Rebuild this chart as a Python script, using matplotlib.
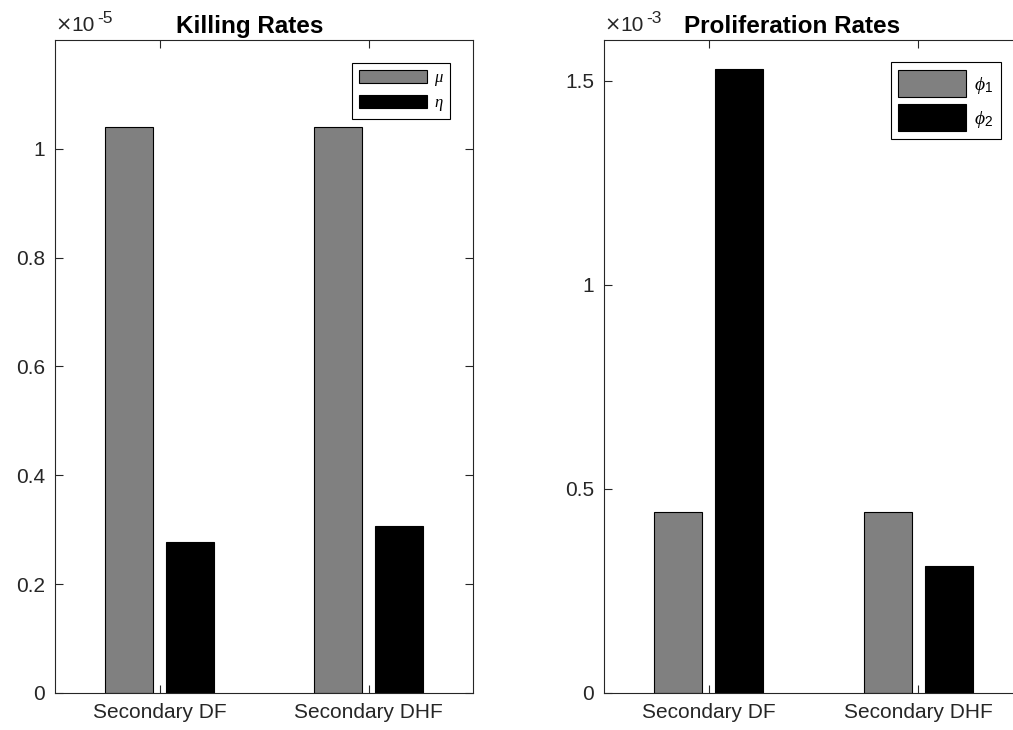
import matplotlib
matplotlib.use("Agg")
import matplotlib.pyplot as plt
import numpy as np

plt.rcParams['font.family'] = ['Liberation Sans', 'DejaVu Sans']
plt.rcParams['mathtext.fontset'] = 'custom'
plt.rcParams['mathtext.rm'] = 'Liberation Sans'
plt.rcParams['mathtext.it'] = 'Liberation Serif:italic'
plt.rcParams['mathtext.bf'] = 'Liberation Sans:bold'

categories = ["Secondary DF", "Secondary DHF"]
mu_vals = [1.04e-5, 1.04e-5]
eta_vals = [0.277e-5, 0.306e-5]
phi1_vals = [0.444e-3, 0.444e-3]
phi2_vals = [1.53e-3, 0.31e-3]

W, H = 1013, 730
fig = plt.figure(figsize=(W / 100, H / 100), dpi=100)

axcol = (0.15, 0.15, 0.15)
gray = (0.5, 0.5, 0.5)


def px_ax(x0, x1, y0, y1):
    return [x0 / W, 1 - y1 / H, (x1 - x0) / W, (y1 - y0) / H]


def make_panel(rect, s1, s2, scale, exp, ylim, yticks, yticklabels, title, title_x,
               labels, legend_anchor, leg_fs, handlelength, handleheight, labelspacing):
    ax = fig.add_axes(rect)
    x = np.arange(1, len(categories) + 1)
    off, w = 0.145, 0.23
    b1 = ax.bar(x - off, np.array(s1) / scale, w, color=gray, edgecolor='black', linewidth=0.8)
    b2 = ax.bar(x + off, np.array(s2) / scale, w, color='black', edgecolor='black', linewidth=0.8)
    ax.set_xlim(0.5, 2.5)
    ax.set_ylim(*ylim)
    ax.set_xticks(x)
    ax.set_xticklabels(categories, fontsize=15)
    ax.set_yticks(yticks)
    ax.set_yticklabels(yticklabels, fontsize=15)
    ax.tick_params(direction='in', length=6, width=0.8, colors=axcol,
                   top=True, right=True, labelcolor=(0.15, 0.15, 0.15), pad=7)
    for sp in ax.spines.values():
        sp.set_color(axcol)
        sp.set_linewidth(0.8)
    ax.set_title(title, fontsize=17.5, fontweight='bold', pad=5, x=title_x)
    ax.text(0.0, 1.008, "\u00d7", transform=ax.transAxes, fontsize=14,
            ha='left', va='bottom', color=axcol, family=['DejaVu Sans'])
    ax.text(0.04, 1.008, "10", transform=ax.transAxes, fontsize=15,
            ha='left', va='bottom', color=axcol)
    ax.text(0.102, 1.022, exp, transform=ax.transAxes, fontsize=12.5,
            ha='left', va='bottom', color=axcol)
    leg = ax.legend([b1, b2], labels, loc='upper right', bbox_to_anchor=legend_anchor,
                    borderaxespad=0, fancybox=False, framealpha=1, fontsize=leg_fs,
                    handlelength=handlelength, handleheight=handleheight, handletextpad=0.4,
                    labelspacing=labelspacing, borderpad=0.4)
    leg.get_frame().set_edgecolor('black')
    leg.get_frame().set_linewidth(0.8)
    return ax


make_panel(px_ax(55, 473, 40, 693), mu_vals, eta_vals, 1e-5, "-5", (0, 1.2),
           [0, 0.2, 0.4, 0.6, 0.8, 1.0], ["0", "0.2", "0.4", "0.6", "0.8", "1"],
           "Killing Rates", 0.4665, [r"$\mu$", r"$\eta$"], (0.945, 0.965),
           12, 4.1, 0.83, 0.4)
make_panel(px_ax(604, 1023, 40, 693), phi1_vals, phi2_vals, 1e-3, "-3", (0, 1.6),
           [0, 0.5, 1.0, 1.5], ["0", "0.5", "1", "1.5"],
           "Proliferation Rates", 0.449, [r"$\phi_{\mathrm{1}}$", r"$\phi_{\mathrm{2}}$"],
           (0.9475, 0.966), 14, 3.5, 1.76, 0.38)

fig.savefig("out.png", dpi=100)
